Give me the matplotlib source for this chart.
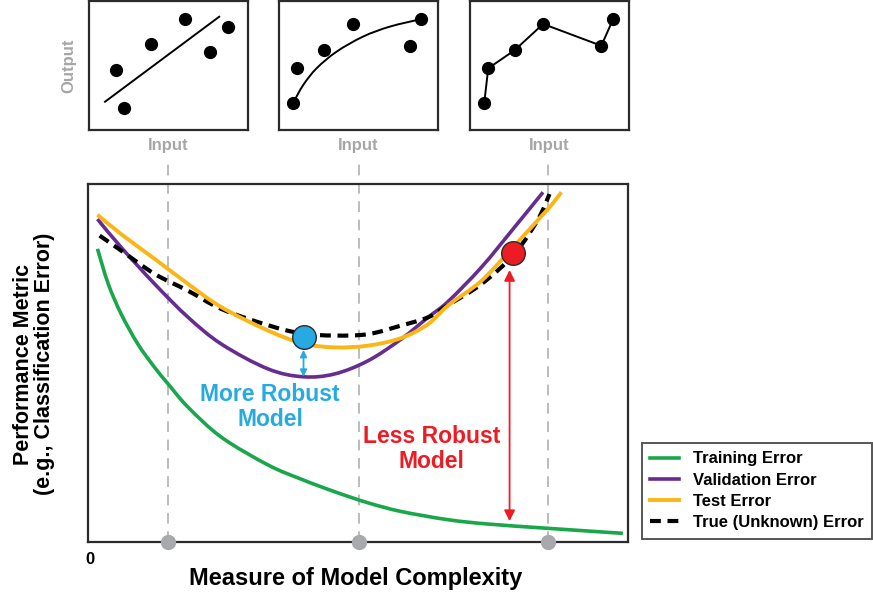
import matplotlib
matplotlib.use("Agg")
import matplotlib.pyplot as plt
from matplotlib.path import Path
from matplotlib.patches import PathPatch
from matplotlib.lines import Line2D

plt.rcParams['font.family'] = ['Liberation Sans', 'DejaVu Sans']
plt.rcParams['font.weight'] = 'bold'

# --- curves (x = complexity, y = error) ---
train_x = [0.17, 0.37, 0.61, 0.92, 1.23, 1.48, 1.85, 2.47, 3.33, 3.95, 4.57, 5.19, 5.80, 6.67, 7.41, 8.52, 9.91]
train_y = [8.19, 7.21, 6.37, 5.53, 4.88, 4.42, 3.77, 2.93, 2.16, 1.76, 1.41, 1.10, 0.86, 0.63, 0.51, 0.39, 0.25]

valid_x = [0.17, 0.61, 1.23, 1.85, 2.47, 3.33, 3.98, 4.57, 5.19, 5.80, 6.30, 6.67, 7.29, 7.90, 8.43]
valid_y = [9.02, 8.23, 7.21, 6.28, 5.53, 4.84, 4.62, 4.70, 5.07, 5.67, 6.28, 6.72, 7.68, 8.79, 9.77]

test_x = [0.17, 0.61, 1.23, 1.85, 2.47, 3.33, 3.98, 4.57, 5.19, 5.80, 6.30, 6.67, 7.29, 7.90, 8.52, 8.77]
test_y = [9.14, 8.60, 7.91, 7.21, 6.56, 5.91, 5.55, 5.44, 5.49, 5.70, 6.09, 6.61, 7.30, 8.28, 9.30, 9.77]

true_x = [0.21, 0.61, 1.23, 1.85, 2.47, 3.33, 3.95, 4.57, 5.19, 5.80, 6.30, 6.67, 7.29, 7.90, 8.34, 8.55]
true_y = [8.56, 8.14, 7.49, 7.02, 6.51, 6.06, 5.83, 5.77, 5.81, 6.05, 6.28, 6.62, 7.21, 8.05, 9.02, 9.72]

complexity_marks = [1.48, 5.02, 8.53]

robust_pt = (3.99, 5.74)
robust_gap = (5.37, 4.62)
fragile_pt = (7.87, 8.07)
fragile_gap = (7.60, 0.59)
fragile_arrow_x = 7.81

# --- inset examples (input vs output) ---
pts1_x = [1.69, 2.21, 3.88, 6.04, 7.58, 8.76]
pts1_y = [4.65, 1.68, 6.67, 8.58, 6.02, 7.96]
fit1_x = [0.99, 8.19]
fit1_y = [2.19, 8.78]

pts2_x = [0.88, 1.13, 2.83, 4.62, 8.26, 8.95]
pts2_y = [2.12, 4.78, 6.20, 8.22, 6.53, 8.58]
fit2_x = [0.88, 1.51, 2.35, 3.61, 5.28, 6.96, 8.95]
fit2_y = [2.12, 3.49, 4.78, 6.07, 7.24, 8.01, 8.60]

pts3_x = [0.90, 1.15, 2.83, 4.61, 8.28, 9.02]
pts3_y = [2.12, 4.78, 6.20, 8.22, 6.53, 8.58]

GREEN = '#1aa64a'
PURPLE = '#662d91'
ORANGE = '#fbb616'
BLUE = '#27aae1'
RED = '#ed1c24'
GRAY = '#a7a9ac'
LABEL_GRAY = '#a6a6a6'
FRAME = '#2b2b2b'


def smooth_path(xs, ys):
    # catmull-rom through the read points, drawn as cubic bezier segments
    pts = list(zip(xs, ys))
    verts = [pts[0]]
    codes = [Path.MOVETO]
    n = len(pts)
    for i in range(n - 1):
        p0 = pts[i - 1] if i > 0 else pts[i]
        p1 = pts[i]
        p2 = pts[i + 1]
        p3 = pts[i + 2] if i + 2 < n else pts[i + 1]
        c1 = (p1[0] + (p2[0] - p0[0]) / 6, p1[1] + (p2[1] - p0[1]) / 6)
        c2 = (p2[0] - (p3[0] - p1[0]) / 6, p2[1] - (p3[1] - p1[1]) / 6)
        verts += [c1, c2, p2]
        codes += [Path.CURVE4] * 3
    return Path(verts, codes)


def add_curve(a, xs, ys, **kw):
    a.add_patch(PathPatch(smooth_path(xs, ys), fill=False, capstyle='butt', joinstyle='round', **kw))


W, H = 873, 594
fig = plt.figure(figsize=(W / 100, H / 100), dpi=100)

# main axes
ax = fig.add_axes([88.3 / W, 51.7 / H, 539.4 / W, 358.3 / H])
ax.set_xlim(0, 10)
ax.set_ylim(0, 10)
ax.set_xticks([])
ax.set_yticks([])
for s in ax.spines.values():
    s.set_linewidth(1.6)
    s.set_color(FRAME)

for xm in complexity_marks:
    ax.plot([xm, xm], [0, 10.75], color=GRAY, lw=1.1, dashes=(7, 5), clip_on=False, zorder=1)
    ax.plot(xm, 0, 'o', ms=10, color=GRAY, clip_on=False, zorder=6)

add_curve(ax, train_x, train_y, edgecolor=GREEN, lw=2.6, zorder=3)
add_curve(ax, valid_x, valid_y, edgecolor=PURPLE, lw=2.6, zorder=3)
add_curve(ax, true_x, true_y, edgecolor='black', lw=3, linestyle=(0, (2.6, 1.6)), zorder=3)
add_curve(ax, test_x, test_y, edgecolor=ORANGE, lw=2.8, zorder=4)

ax.annotate('', xy=(robust_pt[0], robust_gap[1]), xytext=(robust_pt[0], robust_gap[0]),
            arrowprops=dict(arrowstyle='<|-|>', color=BLUE, lw=1.3, mutation_scale=10,
                            shrinkA=0, shrinkB=0), zorder=5)
ax.annotate('', xy=(fragile_arrow_x, fragile_gap[1]), xytext=(fragile_arrow_x, fragile_gap[0]),
            arrowprops=dict(arrowstyle='<|-|>', color=RED, lw=1.3, mutation_scale=16,
                            shrinkA=0, shrinkB=0), zorder=5)
ax.plot(*robust_pt, 'o', ms=17, color=BLUE, mec=FRAME, mew=1, zorder=6)
ax.plot(*fragile_pt, 'o', ms=17, color=RED, mec=FRAME, mew=1, zorder=6)

ax.text(3.37, 3.78, 'More Robust\nModel', color=BLUE, fontsize=16.5, ha='center', va='center',
        linespacing=1.15)
ax.text(6.37, 2.60, 'Less Robust\nModel', color=RED, fontsize=16.5, ha='center', va='center',
        linespacing=1.15)

fig.text(90 / W, 1 - 560 / H, '0', fontsize=12, ha='center', va='center')
fig.text(356 / W, 1 - 578 / H, 'Measure of Model Complexity', fontsize=17, ha='center', va='center')
fig.text(34 / W, 1 - 364 / H, 'Performance Metric\n(e.g., Classification Error)', fontsize=15.5,
         rotation=90, ha='center', va='center', linespacing=1.05)

handles = [
    Line2D([], [], color=GREEN, lw=2.6),
    Line2D([], [], color=PURPLE, lw=2.6),
    Line2D([], [], color=ORANGE, lw=2.8),
    Line2D([], [], color='black', lw=3, dashes=(2.6, 1.6)),
]
labels = ['Training Error', 'Validation Error', 'Test Error', 'True (Unknown) Error']
leg = fig.legend(handles, labels, loc='upper left', bbox_to_anchor=(641.7 / W, 1 - 443 / H),
                 fontsize=12, frameon=True, fancybox=False, borderpad=0.5,
                 handlelength=1.75, handletextpad=0.8, labelspacing=0.38, borderaxespad=0)
leg.get_frame().set_edgecolor(FRAME)
leg.get_frame().set_linewidth(1.4)

# insets
inset_lefts = [89.3, 279.3, 470.0]
insets = []
for left in inset_lefts:
    a = fig.add_axes([left / W, 464 / H, 158.6 / W, 129 / H])
    a.set_xlim(0, 10)
    a.set_ylim(0, 10)
    a.set_xticks([])
    a.set_yticks([])
    for s in a.spines.values():
        s.set_linewidth(1.6)
        s.set_color(FRAME)
    a.set_xlabel('Input', color=LABEL_GRAY, fontsize=12, fontweight='bold', labelpad=6)
    insets.append(a)

insets[0].set_ylabel('Output', color=LABEL_GRAY, fontsize=12, fontweight='bold', labelpad=9)

insets[0].plot(fit1_x, fit1_y, color='black', lw=1.4)
insets[0].plot(pts1_x, pts1_y, 'o', color='black', ms=8.5)
add_curve(insets[1], fit2_x, fit2_y, edgecolor='black', lw=1.4)
insets[1].plot(pts2_x, pts2_y, 'o', color='black', ms=8.5)
insets[2].plot(pts3_x, pts3_y, '-o', color='black', lw=1.4, ms=8.5)

fig.savefig('out.png', dpi=100)
